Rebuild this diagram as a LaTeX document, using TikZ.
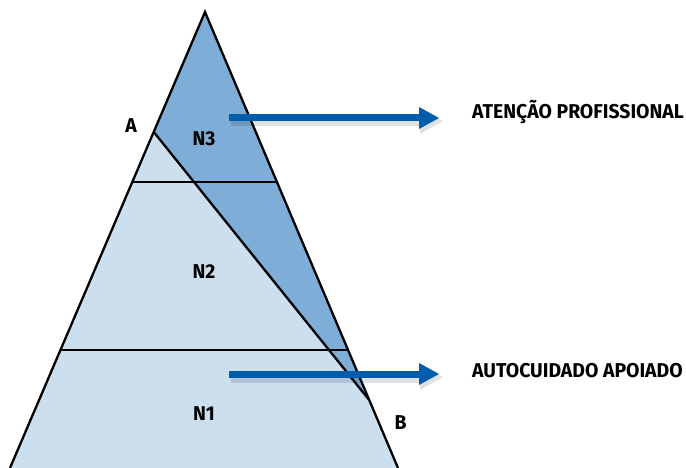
\documentclass[tikz,border=0pt]{standalone}
\usepackage{fontspec}
\setmainfont{Fira Sans}[FakeStretch=0.97]
\usetikzlibrary{calc}
\definecolor{darkfill}{HTML}{7EAED7}
\definecolor{lightfill}{HTML}{CCDFEE}
\definecolor{arrowblue}{HTML}{005DAB}
\tikzset{
  edge/.style={draw=black,line width=2.3pt},
  lbl/.style={font=\fontsize{20}{20}\selectfont\bfseries,inner sep=0pt},
  side/.style={font=\fontsize{20}{20}\selectfont\bfseries,inner sep=0pt,anchor=west},
  bigarrow/.style={draw=arrowblue,line width=7pt},
  headshape/.style={fill=arrowblue},
  shadowline/.style={draw=black,opacity=0.12,line width=9pt}
}
\begin{document}
\begin{tikzpicture}[x=1pt,y=-1pt]
\useasboundingbox (0,0) rectangle (686,468);
\coordinate (P) at (205,12);
\coordinate (L) at (10,468);
\coordinate (R) at (398,468);
\coordinate (A) at ($(P)!0.263!(L)$);
\coordinate (B) at ($(P)!0.851!(R)$);
\coordinate (h1l) at ($(P)!{170/456}!(L)$);
\coordinate (h1r) at ($(P)!{170/456}!(R)$);
\coordinate (h2l) at ($(P)!{338/456}!(L)$);
\coordinate (h2r) at ($(P)!{338/456}!(R)$);
% fills
\fill[lightfill] (A) -- (L) -- (R) -- (B) -- cycle;
\fill[darkfill] (P) -- (A) -- (B) -- cycle;
% lines
\draw[edge] (h1l) -- (h1r);
\draw[edge] (h2l) -- (h2r);
\draw[edge] (A) -- (B);
\draw[edge,line join=miter] (L) -- (P) -- (R);
% arrows
\coordinate (t1) at (229,118);
\coordinate (t2) at (420,118);
\coordinate (b1) at (229,374);
\coordinate (b2) at (420,374);
\draw[shadowline] ($(t1)+(2,4)$) -- ($(t2)+(2,4)$);
\draw[shadowline] ($(b1)+(2,4)$) -- ($(b2)+(2,4)$);
\fill[black,opacity=0.12] ($(t2)+(0,-8)$) -- ($(t2)+(23,3)$) -- ($(t2)+(0,16)$) -- cycle;
\fill[black,opacity=0.12] ($(b2)+(0,-8)$) -- ($(b2)+(23,3)$) -- ($(b2)+(0,16)$) -- cycle;
\draw[bigarrow] (t1) -- (t2);
\draw[bigarrow] (b1) -- (b2);
\fill[headshape] ($(t2)+(-1,-11)$) -- ($(t2)+(19,0)$) -- ($(t2)+(-1,11)$) -- cycle;
\fill[headshape] ($(b2)+(-1,-11)$) -- ($(b2)+(19,0)$) -- ($(b2)+(-1,11)$) -- cycle;
% labels
\node[lbl] (la) at (131,126) {A};
\node[lbl] (lb) at (400.5,423) {B};
\node[lbl] (n3) at (204,138.5) {N3};
\node[lbl] (n2) at (204,272) {N2};
\node[lbl] (n1) at (204,414) {N1};
\node[side] (at) at (472,111.5) {ATENÇÃO PROFISSIONAL};
\node[side] (au) at (472,371) {AUTOCUIDADO APOIADO};
\end{tikzpicture}
\end{document}
